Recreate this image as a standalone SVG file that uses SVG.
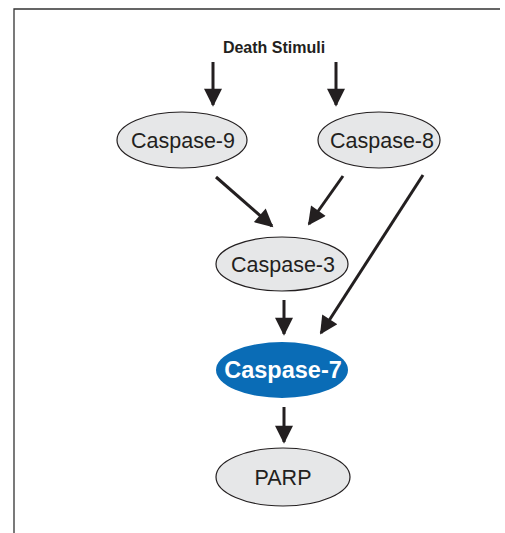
<svg xmlns="http://www.w3.org/2000/svg" width="505" height="533" viewBox="0 0 505 533">
<style>
.frame{fill:none;stroke:#333;stroke-width:1.3}
.node{fill:#e6e7e8;stroke:#231f20;stroke-width:1.2}
.hl{fill:#0a6cb6;stroke:none}
.lbl{font-family:"Liberation Sans",Arial,sans-serif;font-size:21.5px;fill:#231f20;text-anchor:middle}
.hlt{font-family:"Liberation Sans",Arial,sans-serif;font-size:23.5px;font-weight:bold;fill:#fff;text-anchor:middle}
.title{font-family:"Liberation Sans",Arial,sans-serif;font-size:16px;font-weight:bold;fill:#231f20;text-anchor:middle}
.edge{stroke:#231f20;stroke-width:3;fill:none;marker-end:url(#ah)}
</style>
<defs>
<marker id="ah" viewBox="0 0 10 10" refX="9" refY="5" markerWidth="6.5" markerHeight="6" markerUnits="strokeWidth" orient="auto">
<path d="M0,0 L10,5 L0,10 z" fill="#231f20"/>
</marker>
</defs>
<path class="frame" d="M14,533 L14,9 L500,9"/>
<text class="title" x="274" y="53">Death Stimuli</text>
<g id="edges">
<line class="edge" x1="213" y1="62" x2="213" y2="105"/>
<line class="edge" x1="336" y1="62" x2="336" y2="105"/>
<line class="edge" x1="216" y1="177" x2="272" y2="226"/>
<line class="edge" x1="343" y1="176" x2="309" y2="224"/>
<line class="edge" x1="423" y1="175" x2="321" y2="333"/>
<line class="edge" x1="284" y1="300" x2="284" y2="334"/>
<line class="edge" x1="284" y1="407" x2="284" y2="442"/>
</g>
<g id="caspase9">
<ellipse class="node" cx="182" cy="140" rx="65" ry="28"/>
<text class="lbl" x="183" y="148">Caspase-9</text>
</g>
<g id="caspase8">
<ellipse class="node" cx="379" cy="140" rx="61" ry="28"/>
<text class="lbl" x="382" y="148">Caspase-8</text>
</g>
<g id="caspase3">
<ellipse class="node" cx="282" cy="264" rx="66" ry="27"/>
<text class="lbl" x="283" y="272">Caspase-3</text>
</g>
<g id="caspase7">
<ellipse class="hl" cx="282" cy="370" rx="66" ry="28"/>
<text class="hlt" x="283" y="378">Caspase-7</text>
</g>
<g id="parp">
<ellipse class="node" cx="283" cy="477" rx="67" ry="29"/>
<text class="lbl" x="283" y="485">PARP</text>
</g>
</svg>
